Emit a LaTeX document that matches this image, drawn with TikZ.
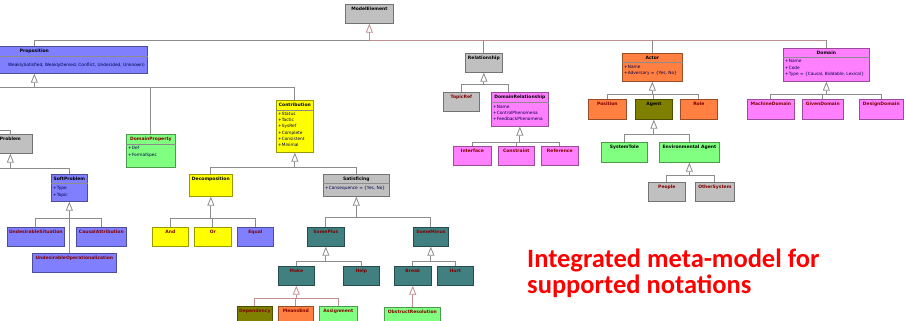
\documentclass[tikz,border=0pt]{standalone}
\usepackage{fontspec}
\setmainfont{DejaVu Sans}
\newfontfamily\notefont{Carlito}
\usetikzlibrary{arrows.meta}
\usetikzlibrary{calc}

\definecolor{gry}{HTML}{C0C0C0}
\definecolor{lav}{HTML}{8080FF}
\definecolor{yel}{HTML}{FFFF00}
\definecolor{grn}{HTML}{80FF80}
\definecolor{pnk}{HTML}{FF80FF}
\definecolor{org}{HTML}{FF8040}
\definecolor{olv}{HTML}{808000}
\definecolor{tea}{HTML}{408080}
\definecolor{mrn}{HTML}{800000}
\definecolor{wirec}{HTML}{8C8C8C}
\definecolor{rwirec}{HTML}{C09090}

\tikzset{
  box/.style={rectangle, draw=#1!60!black, fill=#1, line width=0.7pt,
    anchor=north west, inner sep=0pt},
  hd/.style={anchor=north, yshift=-3.2pt, inner sep=0pt, text=black,
    font=\fontsize{4.5}{5}\selectfont\bfseries},
  cc/.style={hd, text=mrn},
  attr/.style={anchor=north west, inner sep=0pt, align=left, text=black!70!blue,
    font=\fontsize{4.3}{6.3}\selectfont},
  sep/.style={draw=black!45, line width=0.5pt},
  wire/.style={draw=wirec, line width=0.8pt},
  rwire/.style={draw=rwirec, line width=0.8pt},
  gen/.style={wire, -{Triangle[open, width=7pt, length=9pt]}},
  rgen/.style={rwire, -{Triangle[open, width=7pt, length=9pt]}},
  note/.style={anchor=base west, inner sep=0pt, align=left, text=red,
    font=\notefont\bfseries\fontsize{26.5}{26}\selectfont}
}

\begin{document}
\begin{tikzpicture}[x=1pt, y=-1pt]
\clip (0,0) rectangle (907,321);
\fill[white] (0,0) rectangle (907,321);

% top level
\node[box=gry, minimum width=48pt, minimum height=19pt, label={[hd]north:ModelElement}] (ModelElement) at (345,4) {};
\node[box=lav, minimum width=226pt, minimum height=27pt, label={[hd]north:Proposition}] (Proposition) at (-79,46) {};
\node[box=gry, minimum width=37pt, minimum height=19pt, label={[hd]north:Relationship}] (Relationship) at (465,53) {};
\node[box=org, minimum width=60pt, minimum height=28pt, label={[hd]north:Actor}] (Actor) at (622,53) {};
\node[box=pnk, minimum width=86pt, minimum height=33pt, label={[hd]north:Domain}] (Domain) at (783,48) {};

% compartments
\draw[sep] (Proposition.west |- 0,56) -- (Proposition.east |- 0,56);
\node[attr, anchor=north east] (Proposition-a) at (145,63) {WeaklySatisfied, WeaklyDenied, Conflict, Undecided, Unknown)};
\draw[sep] (Actor.west |- 0,62) -- (Actor.east |- 0,62);
\node[attr] (Actor-a) at (624,65) {+Name\\+Adversary = \{Yes, No\}};
\draw[sep] (Domain.west |- 0,57) -- (Domain.east |- 0,57);
\node[attr] (Domain-a) at (785,59.5) {+Name\\+Code\\+Type = \{Causal, Biddable, Lexical\}};

% relationships
\node[box=gry, minimum width=36pt, minimum height=19pt, label={[cc]north:TopicRef}] (TopicRef) at (443,92) {};
\node[box=pnk, minimum width=57pt, minimum height=34pt, label={[hd]north:DomainRelationship}] (DomainRelationship) at (491,92) {};
\draw[sep] (DomainRelationship.west |- 0,102) -- (DomainRelationship.east |- 0,102);
\node[attr] (DomainRelationship-a) at (493,105) {+Name\\+ControlPhenomena\\+FeedbackPhenomena};
\node[box=pnk, minimum width=38pt, minimum height=19pt, label={[cc]north:Interface}] (Interface) at (453,146) {};
\node[box=pnk, minimum width=36pt, minimum height=19pt, label={[cc]north:Constraint}] (Constraint) at (498,146) {};
\node[box=pnk, minimum width=37pt, minimum height=19pt, label={[cc]north:Reference}] (Reference) at (541,146) {};

% actors
\node[box=org, minimum width=38pt, minimum height=20pt, label={[cc]north:Position}] (Position) at (588,99) {};
\node[box=olv, minimum width=37pt, minimum height=20pt, label={[hd]north:Agent}] (Agent) at (635,99) {};
\node[box=org, minimum width=37pt, minimum height=20pt, label={[cc]north:Role}] (Role) at (680,99) {};
\node[box=grn, minimum width=46pt, minimum height=20pt, label={[hd]north:SystemTole}] (SystemTole) at (601,142) {};
\node[box=grn, minimum width=60pt, minimum height=20pt, label={[hd]north:Environmental Agent}] (EnvironmentalAgent) at (659,142) {};
\node[box=gry, minimum width=37pt, minimum height=19pt, label={[cc]north:People}] (People) at (648,182) {};
\node[box=gry, minimum width=39pt, minimum height=19pt, label={[cc]north:OtherSystem}] (OtherSystem) at (695,182) {};

% domains
\node[box=pnk, minimum width=47pt, minimum height=20pt, label={[cc]north:MachineDomain}] (MachineDomain) at (747,99) {};
\node[box=pnk, minimum width=41pt, minimum height=20pt, label={[cc]north:GivenDomain}] (GivenDomain) at (802,99) {};
\node[box=pnk, minimum width=44pt, minimum height=20pt, label={[cc]north:DesignDomain}] (DesignDomain) at (859,99) {};

% propositions
\node[box=gry, minimum width=44pt, minimum height=19pt, label={[hd]north:Problem}] (Problem) at (-12,134) {};
\node[box=lav, minimum width=36pt, minimum height=27pt, label={[hd]north:SoftProblem}] (SoftProblem) at (51,174) {};
\draw[sep] (SoftProblem.west |- 0,183) -- (SoftProblem.east |- 0,183);
\node[attr] (SoftProblem-a) at (53,186.5) {+Type\\+Topic};
\node[box=lav, minimum width=57pt, minimum height=19pt, label={[cc]north:UndesirableSituation}] (UndesirableSituation) at (7,227) {};
\node[box=lav, minimum width=50pt, minimum height=19pt, label={[cc]north:CausalAttribution}] (CausalAttribution) at (76,227) {};
\node[box=lav, minimum width=84pt, minimum height=19pt, label={[cc]north:UndesirableOperationalization}] (UndesirableOperationalization) at (32,253) {};
\node[box=grn, minimum width=49pt, minimum height=33pt, label={[cc]north:DomainProperty}] (DomainProperty) at (126,134) {};
\draw[sep] (DomainProperty.west |- 0,144) -- (DomainProperty.east |- 0,144);
\node[attr] (DomainProperty-a) at (128,146.5) {+Def\\+FormalSpec};

% contributions
\node[box=yel, minimum width=37pt, minimum height=52pt, label={[hd]north:Contribution}] (Contribution) at (276,100) {};
\draw[sep] (Contribution.west |- 0,110) -- (Contribution.east |- 0,110);
\node[attr] (Contribution-a) at (278,112) {+Status\\+Tactic\\+SysRef\\+Complete\\+Consistent\\+Minimal};
\node[box=yel, minimum width=43pt, minimum height=22pt, label={[hd]north:Decomposition}] (Decomposition) at (189,174) {};
\node[box=gry, minimum width=66pt, minimum height=22pt, label={[hd]north:Satisficing}] (Satisficing) at (323,174) {};
\draw[sep] (Satisficing.west |- 0,183) -- (Satisficing.east |- 0,183);
\node[attr] (Satisficing-a) at (325,186.5) {+Consequence = \{Yes, No\}};
\node[box=yel, minimum width=36pt, minimum height=19pt, label={[cc]north:And}] (And) at (152,227) {};
\node[box=yel, minimum width=37pt, minimum height=19pt, label={[cc]north:Or}] (Or) at (194,227) {};
\node[box=lav, minimum width=36pt, minimum height=19pt, label={[cc]north:Equal}] (Equal) at (237,227) {};
\node[box=tea, minimum width=37pt, minimum height=19pt, label={[cc]north:SomePlus}] (SomePlus) at (307,227) {};
\node[box=tea, minimum width=35pt, minimum height=19pt, label={[cc]north:SomeMinus}] (SomeMinus) at (413,227) {};
\node[box=tea, minimum width=36pt, minimum height=19pt, label={[cc]north:Make}] (Make) at (278,266) {};
\node[box=tea, minimum width=36pt, minimum height=19pt, label={[cc]north:Help}] (Help) at (343,266) {};
\node[box=tea, minimum width=37pt, minimum height=19pt, label={[cc]north:Break}] (Break) at (394,266) {};
\node[box=tea, minimum width=36pt, minimum height=19pt, label={[cc]north:Hurt}] (Hurt) at (437,266) {};
\node[box=olv, minimum width=35pt, minimum height=20pt, label={[cc]north:Dependency}] (Dependency) at (237,306) {};
\node[box=org, minimum width=35pt, minimum height=20pt, label={[cc]north:MeansEnd}] (MeansEnd) at (278,306) {};
\node[box=grn, minimum width=38pt, minimum height=20pt, label={[cc]north:Assignment}] (Assignment) at (319,306) {};
\node[box=grn, minimum width=56pt, minimum height=20pt, label={[cc]north:ObstructResolution}] (ObstructResolution) at (384,307) {};

% off-picture ends
\coordinate (offA) at (-10,87);
\coordinate (offB) at (-10,130);
\coordinate (offC) at (-10,168);

% generalisations
\coordinate (bME) at (ModelElement.south |- 0,40);
\draw[rgen] (bME) -- (ModelElement.south);
\draw[wire] (Proposition.north) |- (bME);
\draw[rwire] (bME) -- (Domain.north |- bME);
\draw[wire] (Relationship.north) -- (Relationship.north |- bME);
\draw[wire] (Actor.north) -- (Actor.north |- bME);
\draw[wire] (Domain.north) -- (Domain.north |- bME);

\coordinate (bProp) at (Proposition.south |- 0,87);
\draw[gen] (bProp) -- (Proposition.south);
\draw[wire] (offA) -| (Contribution.north);
\draw[wire] (DomainProperty.north) -- (DomainProperty.north |- bProp);
\draw[wire] (offB) -| (Problem.north);

\coordinate (bRel) at (Relationship.south |- 0,84);
\draw[gen] (bRel) -- (Relationship.south);
\draw[wire] (TopicRef.north) |- (bRel);
\draw[wire] ($(DomainRelationship.north west)+(17,0)$) |- (bRel);

\coordinate (bDR) at (DomainRelationship.south |- 0,142);
\draw[gen] (bDR) -- (DomainRelationship.south);
\draw[wire] (Interface.north) |- (bDR);
\draw[wire] (Reference.north) |- (bDR);
\draw[wire] (Constraint.north) -- (Constraint.north |- bDR);

\coordinate (bAct) at (Actor.south |- 0,94);
\draw[gen] (bAct) -- (Actor.south);
\draw[wire] (Position.north) |- (bAct);
\draw[wire] (Role.north) |- (bAct);
\draw[wire] (Agent.north) -- (Agent.north |- bAct);

\coordinate (bAg) at (Agent.south |- 0,134);
\draw[gen] (bAg) -- (Agent.south);
\draw[wire] (SystemTole.north) |- (bAg);
\draw[wire] (EnvironmentalAgent.north) |- (bAg);

\coordinate (bEnv) at (EnvironmentalAgent.south |- 0,175);
\draw[gen] (bEnv) -- (EnvironmentalAgent.south);
\draw[wire] (People.north) |- (bEnv);
\draw[wire] (OtherSystem.north) |- (bEnv);

\coordinate (bDom) at (Domain.south |- 0,94);
\draw[gen] (bDom) -- (Domain.south);
\draw[wire] (MachineDomain.north) |- (bDom);
\draw[wire] (DesignDomain.north) |- (bDom);
\draw[wire] (GivenDomain.north) -- (GivenDomain.north |- bDom);

\coordinate (bProb) at (Problem.south |- 0,168);
\draw[gen] (bProb) -- (Problem.south);
\draw[wire] (offC) -| (SoftProblem.north);

\coordinate (bSoft) at (SoftProblem.south |- 0,218);
\draw[gen] (bSoft) -- (SoftProblem.south);
\draw[wire] (UndesirableSituation.north) |- (bSoft);
\draw[wire] (CausalAttribution.north) |- (bSoft);
\draw[wire] (UndesirableOperationalization.north -| bSoft) -- (bSoft);

\coordinate (bCon) at (Contribution.south |- 0,167);
\draw[gen] (bCon) -- (Contribution.south);
\draw[wire] (Decomposition.north) |- (bCon);
\draw[wire] (Satisficing.north) |- (bCon);

\coordinate (bDec) at (Decomposition.south |- 0,218);
\draw[gen] (bDec) -- (Decomposition.south);
\draw[wire] (And.north) |- (bDec);
\draw[wire] (Equal.north) |- (bDec);
\draw[wire] (Or.north) -- (Or.north |- bDec);

\coordinate (bSat) at (Satisficing.south |- 0,217);
\draw[gen] (bSat) -- (Satisficing.south);
\draw[wire] (SomePlus.north) |- (bSat);
\draw[wire] (SomeMinus.north) |- (bSat);

\coordinate (bPlus) at (SomePlus.south |- 0,261);
\draw[gen] (bPlus) -- (SomePlus.south);
\draw[wire] (Make.north) |- (bPlus);
\draw[wire] (Help.north) |- (bPlus);

\coordinate (bMinus) at (SomeMinus.south |- 0,261);
\draw[gen] (bMinus) -- (SomeMinus.south);
\draw[wire] (Break.north) |- (bMinus);
\draw[wire] (Hurt.north) |- (bMinus);

\coordinate (bMake) at (Make.south |- 0,298);
\draw[rgen] (bMake) -- (Make.south);
\draw[rwire] (Dependency.north) |- (bMake);
\draw[rwire] (Assignment.north) |- (bMake);
\draw[rwire] (MeansEnd.north) -- (MeansEnd.north |- bMake);

\draw[rgen] (ObstructResolution.north) -- (Break.south);

% caption
\node[note] (caption) at (527,293) {Integrated meta-model for\\supported notations};
\end{tikzpicture}
\end{document}
